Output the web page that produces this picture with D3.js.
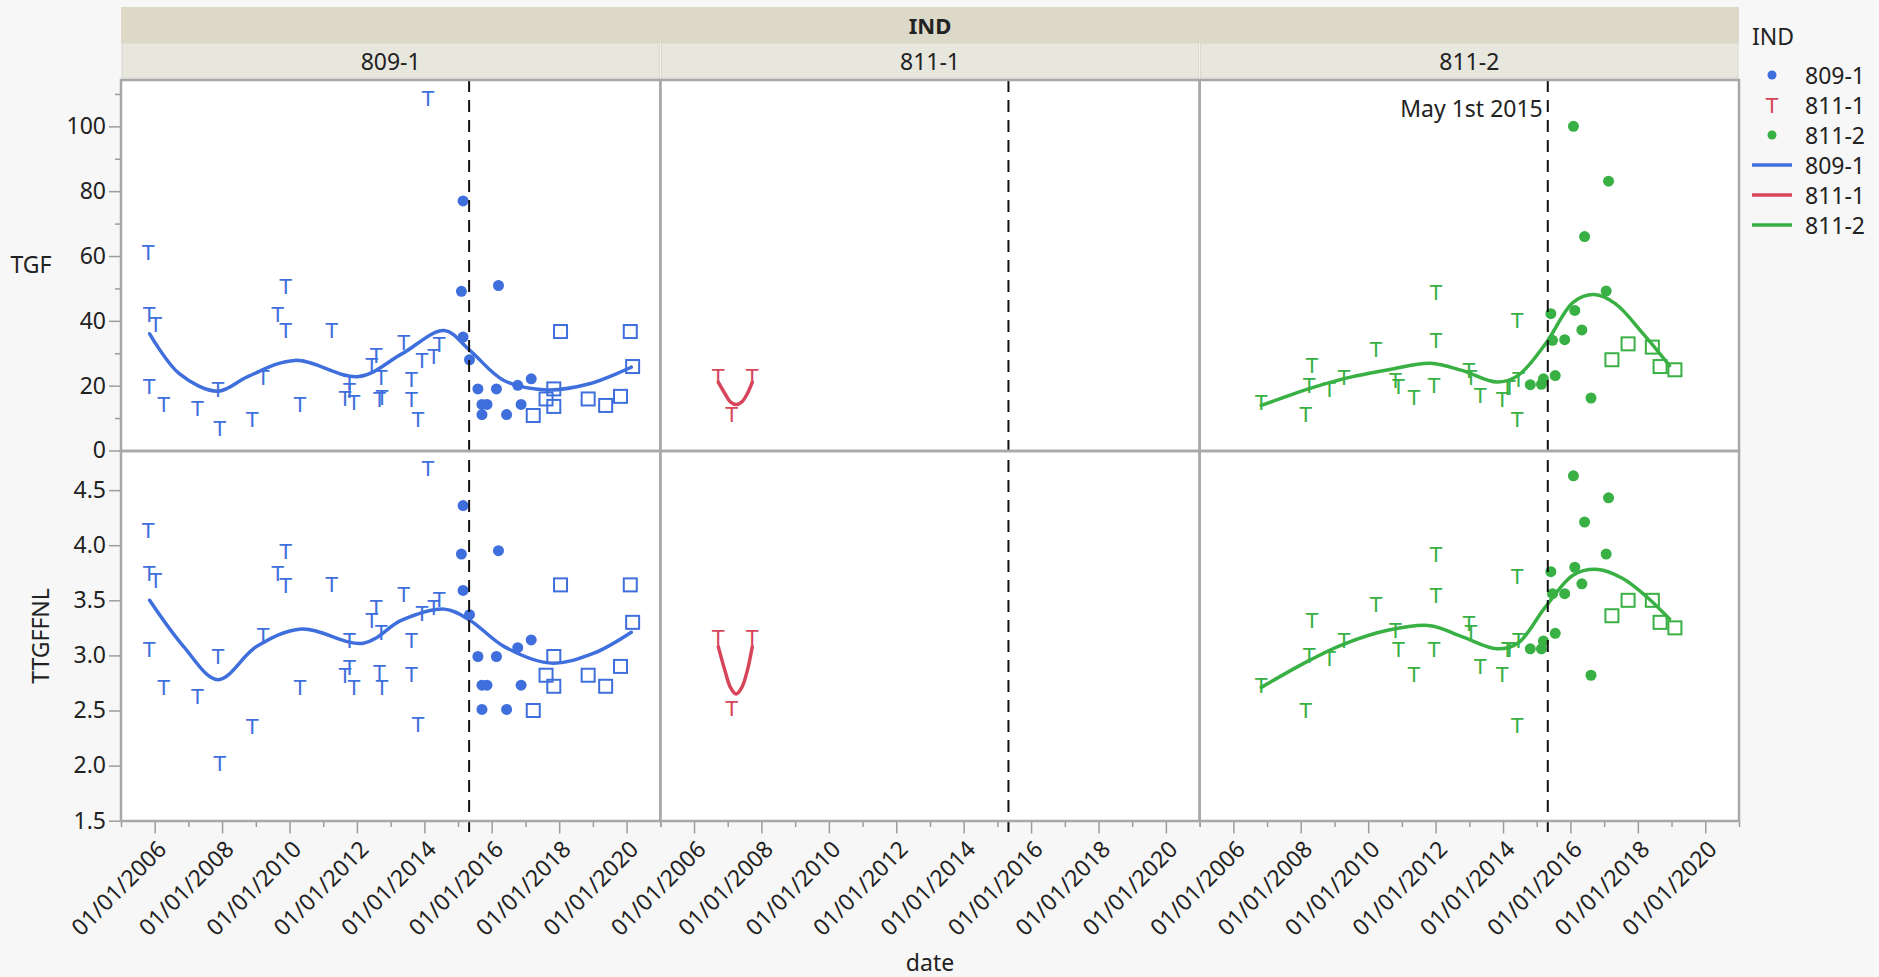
<!DOCTYPE html>
<html>
<head>
<meta charset="utf-8">
<script src="https://cdn.jsdelivr.net/npm/d3@7"></script>
<style>
  body { margin: 0; background: #f7f7f7; }
  text { font-family: "Noto Sans", "Segoe UI", sans-serif; fill: #222; }
</style>
</head>
<body>
<div id="chart"></div>
<script>
// ---- data (dates as decimal years) ----
const inds = ["809-1", "811-1", "811-2"];
const colors = ["#3f6fdc", "#d6455a", "#38b043"];
const rowNames = ["TGF", "TTGFFNL"];
const cutDate = new Date(2015, 4, 1);
const cutLabel = "May 1st 2015";
const xTicksMajor = [2006, 2008, 2010, 2012, 2014, 2016, 2018, 2020];
const xTicksMinor = [2005, 2007, 2009, 2011, 2013, 2015, 2017, 2019, 2021];
const tgfTicks = [0, 20, 40, 60, 80, 100];
const tgfMinor = [10, 30, 50, 70, 90, 110];
const ttgTicks = [1.5, 2.0, 2.5, 3.0, 3.5, 4.0, 4.5];

// 809-1
const tgf809T = [[2005.81,61.2],[2005.84,42.2],[2006.03,38.9],[2005.84,19.8],[2006.27,14.2],[2007.27,13.2],[2007.88,19.0],[2007.93,7.0],[2008.89,9.8],[2009.22,22.8],[2009.65,42.0],[2009.89,50.6],[2009.89,37.0],[2010.31,14.2],[2011.25,37.0],[2011.65,16.3],[2011.78,21.1],[2011.78,18.5],[2011.91,14.9],[2012.44,26.4],[2012.57,29.3],[2012.67,15.9],[2012.72,22.8],[2012.74,16.5],[2013.39,33.4],[2013.62,22.1],[2013.62,15.9],[2013.81,9.8],[2013.93,27.8],[2014.28,29.0],[2014.44,32.9],[2014.11,108.7]];
const tgf809Dot = [[2015.15,77.0],[2015.10,49.1],[2015.15,35.0],[2015.34,28.0],[2015.59,19.0],[2015.71,14.2],[2015.86,14.2],[2015.71,11.1],[2016.14,19.0],[2016.20,50.9],[2016.44,11.1],[2016.77,20.1],[2016.87,14.2],[2017.17,22.1]];
const tgf809Sq = [[2017.23,10.8],[2017.61,15.9],[2017.84,19.0],[2017.84,13.6],[2018.04,36.7],[2018.86,15.9],[2019.38,13.9],[2019.82,16.7],[2020.11,36.7],[2020.18,25.9]];
const tgf809Fit = [[2005.85,36.0],[2006.73,23.7],[2007.88,18.3],[2008.76,22.8],[2010.16,27.8],[2012.06,22.8],[2013.33,29.8],[2014.59,37.0],[2015.35,30.9],[2016.36,21.6],[2017.63,18.7],[2018.9,20.6],[2020.14,25.7]];
const ttg809T = [[2005.81,4.14],[2005.84,3.75],[2006.03,3.68],[2005.84,3.06],[2006.27,2.71],[2007.27,2.63],[2007.88,2.99],[2007.93,2.02],[2008.89,2.36],[2009.22,3.18],[2009.65,3.75],[2009.89,3.95],[2009.89,3.64],[2010.31,2.71],[2011.25,3.65],[2011.65,2.82],[2011.78,3.14],[2011.78,2.89],[2011.91,2.71],[2012.44,3.32],[2012.57,3.44],[2012.67,2.85],[2012.72,3.21],[2012.74,2.71],[2013.39,3.56],[2013.62,3.14],[2013.62,2.83],[2013.81,2.38],[2013.93,3.38],[2014.28,3.44],[2014.44,3.51],[2014.11,4.70]];
const ttg809Dot = [[2015.15,4.36],[2015.10,3.92],[2015.15,3.59],[2015.34,3.37],[2015.59,2.99],[2015.71,2.73],[2015.86,2.73],[2015.71,2.51],[2016.14,2.99],[2016.20,3.95],[2016.44,2.51],[2016.77,3.07],[2016.87,2.73],[2017.17,3.14]];
const ttg809Sq = [[2017.23,2.50],[2017.61,2.82],[2017.84,2.99],[2017.84,2.72],[2018.04,3.64],[2018.86,2.82],[2019.38,2.72],[2019.82,2.90],[2020.11,3.64],[2020.18,3.30]];
const ttg809Fit = [[2005.85,3.50],[2006.86,3.08],[2007.88,2.78],[2009.02,3.08],[2010.35,3.24],[2012.19,3.11],[2013.33,3.32],[2014.59,3.42],[2015.35,3.32],[2016.37,3.08],[2017.76,2.93],[2019.03,3.02],[2020.14,3.21]];

// 811-1
const tgf8111T = [[2006.72,23.0],[2007.73,23.0],[2007.12,11.1]];
const tgf8111Fit = [[2006.72,21.1],[2006.92,17.5],[2007.08,15.0],[2007.25,14.2],[2007.42,15.0],[2007.58,17.5],[2007.73,21.1]];
const ttg8111T = [[2006.72,3.17],[2007.73,3.17],[2007.12,2.52]];
const ttg8111Fit = [[2006.72,3.08],[2006.92,2.86],[2007.08,2.71],[2007.25,2.65],[2007.42,2.71],[2007.58,2.86],[2007.73,3.08]];

// 811-2
const tgf8112T = [[2006.83,14.9],[2008.15,11.3],[2008.33,26.2],[2008.25,20.1],[2008.85,19.0],[2009.28,22.6],[2010.23,31.4],[2010.81,21.6],[2010.90,19.8],[2011.36,16.5],[2011.95,20.1],[2012.01,48.9],[2012.01,34.2],[2012.99,24.7],[2013.05,22.6],[2013.32,17.0],[2013.98,16.0],[2014.13,19.5],[2014.19,19.5],[2014.42,40.1],[2014.46,22.1],[2014.42,9.8]];
const tgf8112Dot = [[2016.09,100.0],[2017.13,83.1],[2016.42,66.0],[2017.06,49.2],[2015.42,42.2],[2016.13,43.2],[2016.34,37.2],[2015.83,34.2],[2015.47,34.0],[2015.55,23.1],[2015.20,22.1],[2015.14,20.4],[2014.81,20.3],[2016.61,16.2]];
const tgf8112Sq = [[2017.23,28.0],[2017.71,32.9],[2018.43,31.9],[2018.66,25.9],[2019.10,24.9]];
const tgf8112Fit = [[2006.83,13.9],[2008.23,19.0],[2009.26,22.1],[2010.61,24.9],[2011.85,26.9],[2012.78,24.7],[2013.82,21.1],[2014.44,23.1],[2015.26,32.9],[2016.09,45.8],[2016.71,48.1],[2017.33,45.3],[2018.16,36.0],[2018.94,26.2]];
const ttg8112T = [[2006.83,2.73],[2008.15,2.50],[2008.33,3.32],[2008.25,3.00],[2008.85,2.98],[2009.28,3.14],[2010.23,3.47],[2010.81,3.23],[2010.90,3.06],[2011.36,2.83],[2011.95,3.06],[2012.01,3.92],[2012.01,3.55],[2012.99,3.29],[2013.05,3.21],[2013.32,2.90],[2013.98,2.83],[2014.13,3.06],[2014.19,3.06],[2014.42,3.72],[2014.46,3.14],[2014.42,2.37]];
const ttg8112Dot = [[2016.09,4.63],[2017.13,4.43],[2016.42,4.21],[2017.06,3.92],[2015.42,3.76],[2016.13,3.80],[2016.34,3.65],[2015.83,3.56],[2015.47,3.56],[2015.55,3.20],[2015.20,3.13],[2015.14,3.06],[2014.81,3.06],[2016.61,2.82]];
const ttg8112Sq = [[2017.23,3.36],[2017.71,3.50],[2018.43,3.50],[2018.66,3.30],[2019.10,3.25]];
const ttg8112Fit = [[2006.83,2.71],[2008.23,2.95],[2009.26,3.10],[2010.61,3.23],[2011.85,3.27],[2012.78,3.17],[2013.82,3.06],[2014.44,3.11],[2015.26,3.44],[2016.09,3.73],[2016.82,3.78],[2017.54,3.70],[2018.27,3.53],[2018.94,3.33]];

// one entry per panel cell: [column, row]
const cells = [
  { col: 0, row: 0, T: tgf809T, dot: tgf809Dot, sq: tgf809Sq, fit: tgf809Fit },
  { col: 0, row: 1, T: ttg809T, dot: ttg809Dot, sq: ttg809Sq, fit: ttg809Fit },
  { col: 1, row: 0, T: tgf8111T, dot: [], sq: [], fit: tgf8111Fit },
  { col: 1, row: 1, T: ttg8111T, dot: [], sq: [], fit: ttg8111Fit },
  { col: 2, row: 0, T: tgf8112T, dot: tgf8112Dot, sq: tgf8112Sq, fit: tgf8112Fit },
  { col: 2, row: 1, T: ttg8112T, dot: ttg8112Dot, sq: ttg8112Sq, fit: ttg8112Fit }
];

// decimal year -> Date
function toDate(y) {
  const yr = Math.floor(y);
  const a = new Date(yr, 0, 1), b = new Date(yr + 1, 0, 1);
  return new Date(+a + (y - yr) * (b - a));
}

// ---- layout ----
const W = 1879, H = 977;
const plotL = 121, plotR = 1739, plotT = 80, plotM = 451, plotB = 821;
const panelW = (plotR - plotL) / 3;
const fs = "23px";

const svg = d3.select("#chart").append("svg")
  .attr("width", W).attr("height", H);

svg.append("rect").attr("width", W).attr("height", H).attr("fill", "#f7f7f7");

// y scales per row
const yScales = [
  d3.scaleLinear().domain([0, 114.3]).range([450.5, plotT]),
  d3.scaleLinear().domain([1.5, 4.855]).range([820.7, plotM])
];

// x scale per column
const xScales = inds.map((d, i) => d3.scaleTime()
  .domain([new Date(2005, 0, 1), new Date(2021, 0, 1)])
  .range([plotL + i * panelW, plotL + (i + 1) * panelW]));

// header bands
svg.append("rect")
  .attr("x", plotL).attr("y", 7).attr("width", plotR - plotL).attr("height", 36)
  .attr("fill", "#dcd9c9");
svg.append("text")
  .attr("x", (plotL + plotR) / 2).attr("y", 25)
  .attr("text-anchor", "middle").attr("dominant-baseline", "central")
  .style("font-size", "22px").style("font-weight", "bold")
  .text("IND");

inds.forEach((ind, i) => {
  const x0 = plotL + i * panelW;
  svg.append("rect")
    .attr("x", x0 + 1).attr("y", 43).attr("width", panelW - 2).attr("height", 35)
    .attr("fill", "#e8e7de").attr("stroke", "#d8d6ca");
  svg.append("text")
    .attr("x", x0 + panelW / 2).attr("y", 61)
    .attr("text-anchor", "middle").attr("dominant-baseline", "central")
    .style("font-size", fs)
    .text(ind);
});

// white plot area
svg.append("rect")
  .attr("x", plotL).attr("y", plotT).attr("width", plotR - plotL).attr("height", plotB - plotT)
  .attr("fill", "white");

// y axes (left side only)
const yAxisG0 = svg.append("g").attr("transform", `translate(${plotL},0)`);
yAxisG0.call(d3.axisLeft(yScales[0]).tickValues(tgfTicks).tickSize(12).tickPadding(3));
yAxisG0.append("g").call(d3.axisLeft(yScales[0]).tickValues(tgfMinor).tickSize(6).tickFormat(""));

const yAxisG1 = svg.append("g").attr("transform", `translate(${plotL},0)`);
yAxisG1.call(d3.axisLeft(yScales[1]).tickValues(ttgTicks).tickSize(12).tickPadding(3).tickFormat(d3.format(".1f")));

svg.selectAll(".domain").remove();
svg.selectAll(".tick line").attr("stroke", "#9c9c9c").attr("stroke-width", 1.5);
svg.selectAll(".tick text").style("font-size", fs).attr("fill", "#222");

// x axes, one per column
xScales.forEach((x, i) => {
  const g = svg.append("g").attr("transform", `translate(0,${plotB})`);
  g.call(d3.axisBottom(x)
      .tickValues(xTicksMajor.map(y => new Date(y, 0, 1)))
      .tickSize(12.5)
      .tickFormat(d3.timeFormat("%m/%d/%Y")));
  g.append("g").call(d3.axisBottom(x)
      .tickValues(xTicksMinor.map(y => new Date(y, 0, 1)))
      .tickSize(6).tickFormat(""));
  g.selectAll(".domain").remove();
  g.selectAll(".tick line").attr("stroke", "#9c9c9c").attr("stroke-width", 1.5);
  g.selectAll(".tick text")
    .style("font-size", fs).attr("fill", "#222")
    .attr("text-anchor", "end")
    .attr("x", 0).attr("y", 0).attr("dy", "0.35em")
    .attr("transform", "translate(7,24) rotate(-45)");
});

// line generator for the fitted curves
const makeLine = (x, y) => d3.line()
  .x(d => x(toDate(d[0])))
  .y(d => y(d[1]))
  .curve(d3.curveCatmullRom.alpha(0.5));

// draw each cell
cells.forEach(c => {
  const x = xScales[c.col], y = yScales[c.row];
  const color = colors[c.col];
  const g = svg.append("g");

  // fitted spline
  g.append("path")
    .datum(c.fit)
    .attr("fill", "none")
    .attr("stroke", color)
    .attr("stroke-width", 3.5)
    .attr("stroke-linecap", "round")
    .attr("d", makeLine(x, y));

  // T markers
  g.selectAll(".tmark")
    .data(c.T)
    .enter()
    .append("text")
    .attr("x", d => x(toDate(d[0])))
    .attr("y", d => y(d[1]))
    .attr("dy", "0.36em")
    .attr("text-anchor", "middle")
    .style("font-family", "'Liberation Sans', sans-serif")
    .style("font-size", "22px")
    .style("fill", color)
    .text("T");

  // filled dots
  g.selectAll(".dot")
    .data(c.dot)
    .enter()
    .append("circle")
    .attr("cx", d => x(toDate(d[0])))
    .attr("cy", d => y(d[1]))
    .attr("r", 5.5)
    .attr("fill", color);

  // open squares
  g.selectAll(".sq")
    .data(c.sq)
    .enter()
    .append("rect")
    .attr("x", d => x(toDate(d[0])) - 6.5)
    .attr("y", d => y(d[1]) - 6.5)
    .attr("width", 13)
    .attr("height", 13)
    .attr("fill", "none")
    .attr("stroke", color)
    .attr("stroke-width", 2);
});

// reference line at May 1st 2015 in every column
xScales.forEach(x => {
  svg.append("line")
    .attr("x1", x(cutDate)).attr("x2", x(cutDate))
    .attr("y1", plotT).attr("y2", plotB + 12)
    .attr("stroke", "#111")
    .attr("stroke-width", 2)
    .attr("stroke-dasharray", "12,8");
});

svg.append("text")
  .attr("x", xScales[2](cutDate) - 5).attr("y", 108)
  .attr("text-anchor", "end").attr("dominant-baseline", "central")
  .style("font-size", fs)
  .text(cutLabel);

// panel borders
for (let i = 0; i < 3; i++) {
  [[plotT, plotM], [plotM, plotB]].forEach(r => {
    svg.append("rect")
      .attr("x", plotL + i * panelW).attr("y", r[0])
      .attr("width", panelW).attr("height", r[1] - r[0])
      .attr("fill", "none")
      .attr("stroke", "#a8a8a8")
      .attr("stroke-width", 2.5);
  });
}

// axis titles
svg.append("text")
  .attr("x", 31).attr("y", 264)
  .attr("text-anchor", "middle").attr("dominant-baseline", "central")
  .style("font-size", fs)
  .text(rowNames[0]);

svg.append("text")
  .attr("transform", `translate(40,${(plotM + plotB) / 2}) rotate(-90)`)
  .attr("text-anchor", "middle").attr("dominant-baseline", "central")
  .style("font-size", fs)
  .text(rowNames[1]);

svg.append("text")
  .attr("x", (plotL + plotR) / 2).attr("y", 962)
  .attr("text-anchor", "middle").attr("dominant-baseline", "central")
  .style("font-size", fs)
  .text("date");

// legend
const legend = svg.append("g").attr("transform", "translate(1752,0)");
legend.append("text")
  .attr("x", 0).attr("y", 36)
  .attr("dominant-baseline", "central")
  .style("font-size", fs)
  .text("IND");

const legendMarks = ["dot", "T", "dot"];
inds.forEach((ind, i) => {
  const yy = 75 + i * 30;
  if (legendMarks[i] === "dot") {
    legend.append("circle").attr("cx", 20).attr("cy", yy).attr("r", 4.5).attr("fill", colors[i]);
  } else {
    legend.append("text")
      .attr("x", 20).attr("y", yy).attr("dy", "0.36em")
      .attr("text-anchor", "middle")
      .style("font-family", "'Liberation Sans', sans-serif")
      .style("font-size", "22px")
      .style("fill", colors[i])
      .text("T");
  }
  legend.append("text")
    .attr("x", 53).attr("y", yy)
    .attr("dominant-baseline", "central")
    .style("font-size", fs)
    .text(ind);
});
inds.forEach((ind, i) => {
  const yy = 165 + i * 30;
  legend.append("line")
    .attr("x1", 0).attr("x2", 40).attr("y1", yy).attr("y2", yy)
    .attr("stroke", colors[i]).attr("stroke-width", 3.5);
  legend.append("text")
    .attr("x", 53).attr("y", yy)
    .attr("dominant-baseline", "central")
    .style("font-size", fs)
    .text(ind);
});
</script>
</body>
</html>
